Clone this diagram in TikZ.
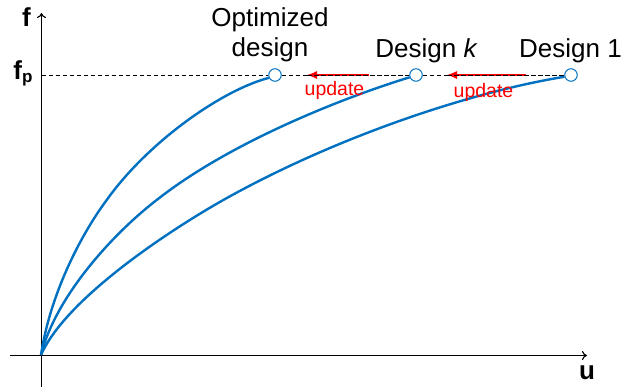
\documentclass[tikz,border=0pt]{standalone}
\usepackage{fontspec}
\setmainfont{Liberation Sans}
\usetikzlibrary{arrows.meta}
\definecolor{curveblue}{RGB}{0,112,192}
\definecolor{updred}{RGB}{255,0,0}
\tikzset{
  axisline/.style={draw=black,line width=1.1pt,-{To[length=5pt,width=9pt]}},
  marker/.style={circle,draw=curveblue,line width=1pt,fill=none,minimum size=12.5pt,inner sep=0pt},
  curveline/.style={draw=curveblue,line width=2.4pt,line join=round},
  level/.style={draw=black,line width=0.7pt,dash pattern=on 4.5pt off 2.5pt},
  updarrow/.style={draw=updred,line width=1.1pt,-{Latex[length=10pt,width=8pt]}},
  designlabel/.style={font=\fontsize{26pt}{30pt}\selectfont,inner sep=0pt,align=center,text=black},
  axislabel/.style={font=\fontsize{26pt}{30pt}\selectfont\bfseries,inner sep=0pt,text=black},
  updlabel/.style={font=\fontsize{19.5pt}{22pt}\selectfont,inner sep=0pt,text=updred}
}
\begin{document}
\begin{tikzpicture}[x=1pt,y=-1pt]
\useasboundingbox (0,0) rectangle (622,389);
\coordinate (o) at (41,355);
\coordinate (xs) at (10,355.5);
\coordinate (xe) at (587,355.5);
\coordinate (ys) at (41.5,387);
\coordinate (ye) at (41.5,13);
\coordinate (ls) at (41.5,75);
\coordinate (s1) at (106.7,200);
\coordinate (s2) at (156.7,200);
\coordinate (s3) at (223.3,200);
\node[marker] (m1) at (275,75) {};
\node[marker] (m2) at (416,75) {};
\node[marker] (m3) at (571,75) {};
\coordinate (a1s) at (369,75);
\coordinate (a1e) at (307,75);
\coordinate (a2s) at (526,75);
\coordinate (a2e) at (447,75);
\draw[axisline] (xs) -- (xe);
\draw[axisline] (ys) -- (ye);
\draw[curveline] (o) .. controls (50,295) and (80,236) .. (s1) .. controls (148,142) and (222,90) .. (m1.205);
\draw[curveline] (o) .. controls (56,295) and (115,232) .. (s2) .. controls (230,142) and (345,97) .. (m2.200);
\draw[curveline] (o) .. controls (65,300) and (165,233) .. (s3) .. controls (330,140) and (465,93) .. (m3.195);
\draw[updarrow] (a1s) -- (a1e);
\draw[updarrow] (a2s) -- (a2e);
\draw[level] (ls) -- (m1) (m1) -- (a1e) (a1e) -- (m2) (m2) -- (a2e) (a2e) -- (m3);
\node[designlabel] (t1) at (270,35) {Optimized\\design};
\node[designlabel,anchor=base] (t2) at (426.5,57) {Design \textit{k}};
\node[designlabel,anchor=base] (t3) at (570.5,57) {Design 1};
\node[updlabel,anchor=base] (u1) at (334.5,95) {update};
\node[updlabel,anchor=base] (u2) at (483.5,97) {update};
\node[axislabel,anchor=base] (f) at (26.5,26) {f};
\node[axislabel,anchor=base] (fp) at (23,79) {f\raisebox{-3.5pt}{\fontsize{17pt}{20pt}\selectfont p}};
\node[axislabel,anchor=base] (u) at (587,379) {u};
\end{tikzpicture}
\end{document}
